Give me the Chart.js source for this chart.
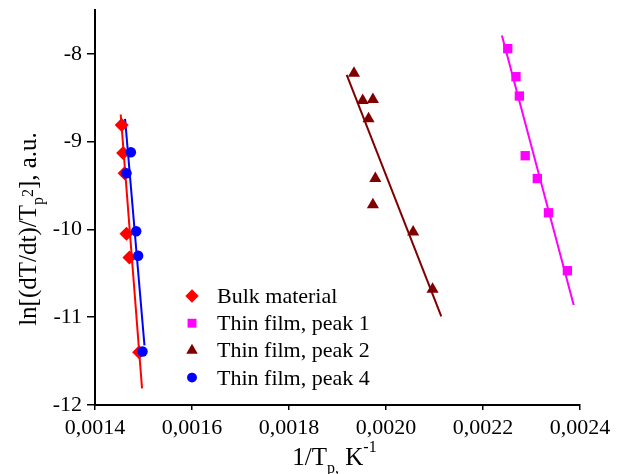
<!DOCTYPE html>
<html><head><meta charset="utf-8">
<script src="https://cdn.jsdelivr.net/npm/chart.js@4.4.0/dist/chart.umd.min.js"></script>
<style>html,body{margin:0;padding:0;background:#fff;}#wrap{width:627px;height:474px;position:relative;}</style>
</head><body><div id="wrap"><canvas id="c"></canvas></div>
<script>
// ---- data ----
const seriesNames = ['Bulk material', 'Thin film, peak 1', 'Thin film, peak 2', 'Thin film, peak 4'];
const bulkX  = [0.001455, 0.001458, 0.001461, 0.001465, 0.001471, 0.001491];
const bulkY  = [-8.81, -9.13, -9.36, -10.05, -10.32, -11.40];
const peak1X = [0.002251, 0.002268, 0.002275, 0.002287, 0.002312, 0.002335, 0.002374];
const peak1Y = [-7.94, -8.26, -8.48, -9.16, -9.42, -9.81, -10.47];
const peak2X = [0.001934, 0.001952, 0.001973, 0.001964, 0.001978, 0.001973, 0.002056, 0.002096];
const peak2Y = [-8.22, -8.53, -8.52, -8.74, -9.42, -9.72, -10.03, -10.68];
const peak4X = [0.001474, 0.001465, 0.001485, 0.001489, 0.001498];
const peak4Y = [-9.12, -9.36, -10.02, -10.30, -11.39];
// linear fit lines (end points)
const bulkFitX  = [0.001453, 0.001497], bulkFitY  = [-8.69, -11.81];
const peak1FitX = [0.002239, 0.002387], peak1FitY = [-7.79, -10.86];
const peak2FitX = [0.001919, 0.002114], peak2FitY = [-8.24, -10.99];
const peak4FitX = [0.001462, 0.001502], peak4FitY = [-8.74, -11.32];
// ticks
const xTicks = [0.0014, 0.0016, 0.0018, 0.0020, 0.0022, 0.0024];
const xTickLabels = ['0,0014', '0,0016', '0,0018', '0,0020', '0,0022', '0,0024'];
const yTicks = [-12, -11, -10, -9, -8];
const yTickLabels = ['-12', '-11', '-10', '-9', '-8'];
// axis titles (text, kind)
const xTitleParts = [['1/T', 'n'], ['p,', 'sub'], [' K', 'n'], ['-1', 'sup']];
const yTitleParts = [['ln[(dT/dt)/T', 'n'], ['p', 'sub'], ['2', 'sup'], ['], a.u.', 'n']];

// ---- styling ----
const colors = ['#FF0000', '#FF00FF', '#800000', '#0000FF'];
const styles = ['rectRot', 'rect', 'triangle', 'circle'];
const radii = [7, 6.6, 7, 5.2];
const FONT = '"Liberation Serif", "Times New Roman", serif';

function pts(xs, ys) { return xs.map((x, i) => ({ x: x, y: ys[i] })); }
const scatterSets = [[bulkX, bulkY], [peak1X, peak1Y], [peak2X, peak2Y], [peak4X, peak4Y]];
const fitSets = [[bulkFitX, bulkFitY], [peak1FitX, peak1FitY], [peak2FitX, peak2FitY], [peak4FitX, peak4FitY]];

const datasets = [];
scatterSets.forEach((s, i) => {
  datasets.push({
    label: seriesNames[i], data: pts(s[0], s[1]), showLine: false,
    pointStyle: styles[i], pointRadius: radii[i], pointHoverRadius: radii[i],
    backgroundColor: colors[i], borderColor: colors[i], borderWidth: 0,
    order: 10 - i, clip: false, isSeries: true
  });
});
fitSets.forEach((s, i) => {
  datasets.push({
    label: '', data: pts(s[0], s[1]), showLine: true, pointRadius: 0,
    borderColor: colors[i], borderWidth: 2, backgroundColor: colors[i],
    order: 20 - i, clip: false, isSeries: false
  });
});

function drawRich(ctx, parts, cfg) {
  const big = cfg.big, small = cfg.small;
  let widths = parts.map(p => { ctx.font = (p[1] === 'n' ? big : small) + 'px ' + FONT; return ctx.measureText(p[0]).width; });
  const total = widths.reduce((a, b) => a + b, 0);
  let x = -total / 2;
  parts.forEach((p, i) => {
    ctx.font = (p[1] === 'n' ? big : small) + 'px ' + FONT;
    const dy = p[1] === 'sub' ? cfg.subDy : (p[1] === 'sup' ? cfg.supDy : 0);
    ctx.fillText(p[0], x, dy);
    x += widths[i];
  });
}

const extras = {
  id: 'extras',
  afterDraw(chart) {
    const ctx = chart.ctx, a = chart.chartArea;
    ctx.save();
    ctx.fillStyle = '#000';
    ctx.textBaseline = 'alphabetic';
    ctx.textAlign = 'left';
    // x title
    ctx.save();
    ctx.translate((a.left + a.right) / 2 - 3, a.bottom + 60);
    drawRich(ctx, xTitleParts, { big: 25, small: 16, subDy: 8, supDy: -13 });
    ctx.restore();
    // y title
    ctx.save();
    ctx.translate(a.left - 59, a.top + 219);
    ctx.rotate(-Math.PI / 2);
    drawRich(ctx, yTitleParts, { big: 25, small: 16, subDy: 7, supDy: -3 });
    ctx.restore();
    // legend
    const lx = a.left + 97, ly = a.top + 286, step = 27.2;
    chart.data.datasets.filter(d => d.isSeries).forEach((d, i) => {
      const y = ly + i * step;
      ctx.fillStyle = d.backgroundColor; ctx.strokeStyle = d.borderColor; ctx.lineWidth = 0;
      Chart.helpers.drawPoint(ctx, { pointStyle: d.pointStyle, radius: d.pointRadius * 0.95, rotation: 0, borderWidth: 0 }, lx, y);
      ctx.fillStyle = '#000';
      ctx.font = '22px ' + FONT;
      ctx.fillText(d.label, lx + 25, y + 7);
    });
    ctx.restore();
  }
};

new Chart(document.getElementById('c'), {
  type: 'scatter',
  data: { datasets: datasets },
  plugins: [extras],
  options: {
    responsive: true, maintainAspectRatio: false, animation: false,
    layout: { padding: { left: 0, top: 10, right: 47, bottom: 0 } },
    plugins: { legend: { display: false }, tooltip: { enabled: false } },
    elements: { line: { tension: 0 } },
    scales: {
      x: {
        type: 'linear', min: 0.0014, max: 0.0024,
        afterBuildTicks: s => { s.ticks = xTicks.map(v => ({ value: v })); },
        afterFit: s => { s.height = 69; s.paddingLeft = 0; s.paddingRight = 0; },
        ticks: { callback: (v) => xTickLabels[xTicks.findIndex(t => Math.abs(t - v) < 1e-9)], font: { family: FONT, size: 22 }, color: '#000', padding: 5, maxRotation: 0, autoSkip: false },
        grid: { display: true, drawOnChartArea: false, drawTicks: true, tickLength: 5, color: '#000', lineWidth: 1.5 },
        border: { display: true, color: '#000', width: 2 }
      },
      y: {
        type: 'linear', min: -12, max: -7.5,
        afterBuildTicks: s => { s.ticks = yTicks.map(v => ({ value: v })); },
        afterFit: s => { s.width = 95; s.paddingTop = 0; s.paddingBottom = 0; },
        ticks: { callback: (v) => yTickLabels[yTicks.indexOf(v)], font: { family: FONT, size: 22 }, color: '#000', padding: 5, autoSkip: false },
        grid: { display: true, drawOnChartArea: false, drawTicks: true, tickLength: 8, color: '#000', lineWidth: 1.5 },
        border: { display: true, color: '#000', width: 2 }
      }
    }
  }
});
</script></body></html>
